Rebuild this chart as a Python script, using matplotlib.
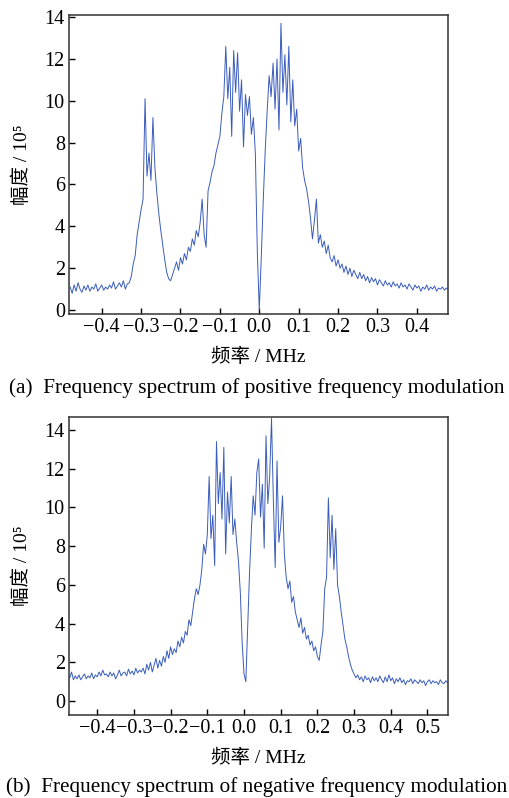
import numpy as np
import matplotlib.pyplot as plt

fonts = ['Liberation Serif', 'DejaVu Serif', 'Noto Sans CJK SC']

# (a) positive frequency modulation, x = -0.48 ... 0.48 step 0.005 MHz
freq_a = np.round(np.arange(-0.48, 0.4801, 0.005), 3)
amp_a = [
    1.1, 0.8, 1.2, 0.9, 1.3, 1.0, 0.85, 1.15, 0.95, 1.2,
    0.9, 1.1, 1.0, 1.25, 0.9, 1.05, 1.2, 0.95, 1.1, 1.0,
    1.2, 1.05, 1.35, 1.0, 1.15, 1.3, 1.1, 1.4, 1.0, 1.25,
    1.3, 1.6, 2.2, 2.6, 3.6, 4.2, 4.8, 5.3, 10.1, 6.4,
    7.5, 6.2, 9.2, 6.8, 5.6, 4.6, 3.8, 3.1, 2.4, 1.8,
    1.5, 1.4, 1.7, 2.0, 2.3, 1.9, 2.5, 2.2, 2.7, 2.4,
    3.0, 2.8, 3.4, 3.1, 3.8, 3.5, 4.2, 5.3, 3.6, 3.0,
    5.7, 6.1, 6.6, 6.9, 7.5, 7.9, 8.3, 9.4, 10.2, 12.6,
    10.1, 11.6, 8.3, 12.4, 10.4, 12.3, 9.5, 11.0, 7.8, 10.3,
    9.3, 10.2, 8.4, 9.2, 7.5, 2.8, 0.0, 2.5, 5.2, 7.6,
    9.5, 11.2, 10.2, 11.8, 9.6, 12.0, 8.6, 13.7, 10.4, 12.2,
    9.8, 12.6, 9.0, 11.0, 8.8, 9.6, 7.6, 8.2, 6.8, 6.2,
    5.8, 5.2, 4.4, 3.4, 4.3, 5.3, 3.2, 3.6, 3.0, 3.3,
    2.7, 3.1, 2.5, 2.3, 2.6, 2.1, 2.4, 2.0, 2.2, 1.8,
    2.1, 1.7, 2.0, 1.6, 1.9, 1.7, 1.5, 1.8, 1.5, 1.7,
    1.4, 1.6, 1.3, 1.55, 1.35, 1.5, 1.2, 1.45, 1.3, 1.15,
    1.4, 1.2, 1.3, 1.1, 1.35, 1.15, 1.25, 1.05, 1.3, 1.1,
    1.2, 1.0, 1.25, 1.1, 0.95, 1.2, 1.05, 1.15, 0.9, 1.1,
    1.0, 1.2, 0.95, 1.1, 1.0, 1.15, 0.9, 1.05, 1.0, 1.1,
    0.95, 1.05, 1.0,
]

# (b) negative frequency modulation, x = -0.475 ... 0.555 step 0.005 MHz
freq_b = np.round(np.arange(-0.475, 0.5551, 0.005), 3)
amp_b = [
    1.2, 1.5, 1.1, 1.3, 1.15, 1.35, 1.1, 1.25, 1.4, 1.15,
    1.3, 1.2, 1.45, 1.15, 1.35, 1.25, 1.5, 1.3, 1.6, 1.35,
    1.4, 1.25, 1.5, 1.3, 1.45, 1.15, 1.35, 1.6, 1.3, 1.45,
    1.5, 1.3, 1.65, 1.4, 1.55, 1.35, 1.7, 1.45, 1.6, 1.5,
    1.7, 1.4, 1.9, 1.6, 2.0, 1.5, 1.85, 2.2, 1.7, 2.1,
    1.8, 2.3, 2.0, 2.6, 2.2, 2.8, 2.4, 2.7, 2.5, 3.1,
    2.8, 3.3, 3.0, 3.6, 3.4, 4.2, 3.9, 4.6, 5.3, 5.8,
    5.5, 6.0, 6.8, 8.1, 7.6, 8.6, 11.6, 8.4, 9.6, 7.0,
    13.4, 10.2, 11.8, 9.4, 13.1, 7.6, 10.8, 9.2, 11.6, 8.6,
    9.4, 8.2, 7.2, 5.6, 3.0, 1.4, 1.0, 3.8, 6.6, 8.8,
    10.6, 9.6, 11.8, 12.5, 9.5, 11.2, 7.9, 13.7, 10.2, 11.6,
    14.6, 10.4, 6.9, 12.4, 8.2, 9.0, 10.6, 7.6, 6.4, 5.8,
    6.2, 5.1, 5.4, 4.6, 4.2, 3.8, 4.3, 3.5, 3.8, 3.2,
    3.4, 2.9, 3.1, 2.6, 2.8, 2.3, 2.1, 2.9, 3.6, 5.8,
    6.4, 10.5, 7.4, 9.6, 6.8, 8.9, 6.0, 5.4, 4.6, 3.9,
    3.2, 2.8, 2.3, 1.9, 1.6, 1.4, 1.2, 1.35, 1.1, 1.25,
    1.0, 1.3, 1.1, 1.2, 0.95, 1.25, 1.05, 1.2, 1.0, 1.3,
    1.1, 0.95, 1.25, 1.0, 1.35, 1.05, 1.2, 0.9, 1.15, 1.0,
    1.2, 0.95, 1.1, 0.85, 1.05, 1.0, 1.15, 0.9, 1.1, 1.0,
    0.9, 1.1, 0.95, 1.05, 0.8, 1.0, 1.1, 0.9, 1.05, 0.95,
    1.0, 0.85, 1.1, 0.95, 0.9, 1.05, 0.95,
]

xticks_a = [-0.4, -0.3, -0.2, -0.1, 0.0, 0.1, 0.2, 0.3, 0.4]
xticks_b = [-0.4, -0.3, -0.2, -0.1, 0.0, 0.1, 0.2, 0.3, 0.4, 0.5]
yticks = [0, 2, 4, 6, 8, 10, 12, 14]

xlabel = '频率 / MHz'
ylabel = '幅度 / 10\u2075'
cap_a = '(a)  Frequency spectrum of positive frequency modulation'
cap_b = '(b)  Frequency spectrum of negative frequency modulation'

fig = plt.figure(figsize=(5.1, 7.98), dpi=100)
ax1 = fig.add_axes([0.1353, 0.6065, 0.7431, 0.3747])
ax2 = fig.add_axes([0.1353, 0.1040, 0.7431, 0.3734])

def style(ax, x, y, xt, xlim, ylim):
    ax.plot(x, y, color='#3a5cbc', lw=0.7)
    ax.set_xlim(*xlim)
    ax.set_ylim(*ylim)
    ax.set_xticks(xt)
    ax.set_yticks(yticks)
    ax.tick_params(direction='in', length=4, width=1, labelsize=14.5,
                   top=False, right=False, pad=3)
    for lab in ax.get_xticklabels() + ax.get_yticklabels():
        lab.set_family('Liberation Serif')
    for s in ax.spines.values():
        s.set_linewidth(1.1)
        s.set_color('#333333')
    ax.set_xlabel(xlabel, family=fonts, fontsize=14, va='center')
    ax.set_ylabel(ylabel, family=fonts, fontsize=14, va='center')
    ax.xaxis.set_label_coords(0.5, -0.145)
    ax.yaxis.set_label_coords(-0.125, 0.5)

style(ax1, freq_a, amp_a, xticks_a, (-0.483, 0.479), (-0.19, 14.1))
style(ax2, freq_b, amp_b, xticks_b, (-0.477, 0.556), (-0.72, 14.67))

fig.text(0.503, 1 - 388 / 798, cap_a, family=fonts, fontsize=15.3,
         ha='center', va='center')
fig.text(0.503, 1 - 787 / 798, cap_b, family=fonts, fontsize=15.3,
         ha='center', va='center')

fig.savefig('out.png', dpi=100)
